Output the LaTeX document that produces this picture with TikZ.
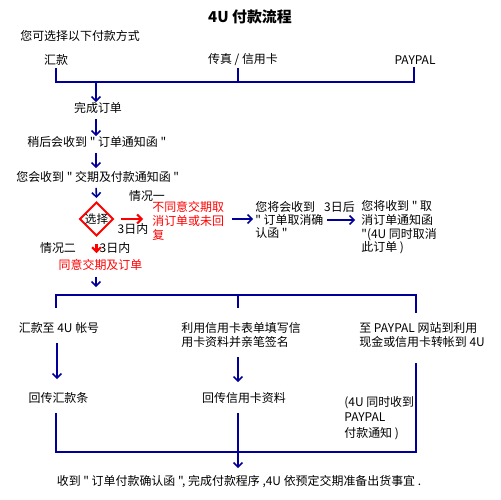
\documentclass[tikz,border=0pt]{standalone}
\usepackage{fontspec}
\setmainfont{Noto Sans CJK SC}[Ligatures=TeXOff]
\usetikzlibrary{arrows.meta,shapes.geometric}
\definecolor{navy}{RGB}{0,0,153}
\definecolor{rd}{RGB}{255,0,0}
\begin{document}
\begin{tikzpicture}[x=0.02cm,y=-0.02cm,
  txt/.style={inner sep=0pt, font=\fontsize{6.8}{7.9}\selectfont, align=left},
  lt/.style={txt, anchor=west},
  redtxt/.style={text=rd},
  ln/.style={draw=navy, line width=1.1pt},
  arr/.style={draw=navy, line width=0.9pt, -{Straight Barb[length=2.5pt,width=5pt]}},
  rarr/.style={draw=rd, line width=1.2pt, -{Straight Barb[length=2.5pt,width=5pt]}},
  choice/.style={diamond, draw=rd, line width=1.1pt, inner sep=0pt, minimum size=0.68cm, font=\fontsize{6.6}{7.9}\selectfont},
]
\useasboundingbox (0,0) rectangle (500,500);

% title and methods
\node[txt, font=\fontsize{8.5}{10}\selectfont\bfseries] (title) at (250,17) {4U 付款流程};
\node[lt] (intro) at (20,36) {您可选择以下付款方式};
\node[txt] (m1) at (56,60) {汇款};
\node[txt] (m2) at (243,60) {传真 / 信用卡};
\node[txt] (m3) at (415,60) {PAYPAL};

\coordinate (a1t) at (56,68);   \coordinate (a1) at (56,82);
\coordinate (a2t) at (238,68);  \coordinate (a2) at (238,82);
\coordinate (a3t) at (414,67);  \coordinate (a3) at (414,82);
\coordinate (a0) at (96,82);
\draw[ln] (a1t) -- (a1) -- (a3) -- (a3t);
\draw[ln] (a2t) -- (a2);

% main column
\node[txt] (done) at (98,108) {完成订单};
\node[lt] (later) at (27,142) {稍后会收到 " 订单通知函 "};
\node[lt] (notice) at (16,177) {您会收到 " 交期及付款通知函 "};
\node[choice] (choose) at (96.5,219) {选择};

\draw[arr] (a0) -- (a0 |- done.north);
\draw[arr, shorten <=0.1cm] (done.south -| a0) -- (a0 |- later.north);
\draw[arr, shorten <=0.1cm, shorten >=0.06cm] (later.south -| a0) -- (a0 |- notice.north);
\draw[arr, shorten <=0.1cm, shorten >=0.06cm] (notice.south -| a0) -- (choose.north);

% case one
\node[txt] (case1) at (147,196) {情况一};
\node[lt, redtxt, font=\fontsize{6.8}{8}\selectfont] (disagree) at (152,220.5) {不同意交期取\\消订单或未回\\复};
\node[txt] (d3a) at (133,229) {3日内};
\draw[rarr, shorten <=0.14cm, shorten >=0.18cm] (choose.east) -- (choose.east -| disagree.west);

\node[lt, font=\fontsize{6.8}{7.4}\selectfont] (cancel1) at (255,220) {您将会收到\\" 订单取消确\\认函 "};
\draw[arr, shorten <=0.16cm, shorten >=0.04cm] (disagree.east |- choose) -- (cancel1.west |- choose);

\node[txt] (d3b) at (339.5,207) {3日后};
\node[lt, font=\fontsize{6.8}{7.8}\selectfont] (cancel2) at (361,227.5) {您将收到 " 取\\消订单通知函\\"(4U 同时取消\\此订单 )};
\draw[arr, shorten <=0.06cm, shorten >=0.12cm] (cancel1.east) -- (cancel1.east -| cancel2.west);

% case two
\node[txt] (case2) at (58,248) {情况二};
\node[txt] (d3c) at (115,248) {3日内};
\node[txt, redtxt] (agree) at (100.5,265) {同意交期及订单};
\draw[rarr, shorten <=0.14cm, shorten >=0.12cm] (choose.south) -- (choose.south |- agree.north);
\coordinate (b0) at (96,287);
\draw[arr, shorten <=0.12cm] (agree.south -| b0) -- (b0);

% second bracket
\coordinate (b1) at (56,295);  \coordinate (b1e) at (56,308);
\coordinate (b2) at (238,295); \coordinate (b2e) at (238,308);
\coordinate (b3) at (416,295); \coordinate (b3e) at (416,313);
\draw[ln] (b1e) -- (b1) -- (b3) -- (b3e);
\draw[ln] (b2) -- (b2e);

\node[txt] (wire) at (59,328) {汇款至 4U 帐号};
\node[lt] (card) at (181,335) {利用信用卡表单填写信\\用卡资料并亲笔签名};
\node[lt] (pp) at (359,335) {至 PAYPAL 网站到利用\\现金或信用卡转帐到 4U};

\node[txt] (back1) at (58.5,398) {回传汇款条};
\node[txt] (back2) at (244,398) {回传信用卡资料};
\node[lt, font=\fontsize{6.8}{9}\selectfont] (note) at (344,418) {(4U 同时收到\\PAYPAL\\付款通知 )};

\coordinate (c1) at (57,343); \coordinate (c1e) at (57,379);
\coordinate (c2) at (238,357); \coordinate (c2e) at (238,382);
\draw[arr] (c1) -- (c1e);
\draw[arr] (c2) -- (c2e);

% bottom bracket
\coordinate (d1) at (56,413);  \coordinate (e1) at (56,452);
\coordinate (d2) at (238,413); \coordinate (e2) at (238,452);
\coordinate (d3) at (416,363); \coordinate (e3) at (416,452);
\coordinate (f2) at (238,468);
\draw[ln] (d1) -- (e1) -- (e3) -- (d3);
\draw[ln] (d2) -- (e2);

\node[txt] (final) at (239,482) {收到 " 订单付款确认函 ", 完成付款程序 ,4U 依预定交期准备出货事宜 .};
\draw[arr] (e2) -- (f2);
\end{tikzpicture}
\end{document}
